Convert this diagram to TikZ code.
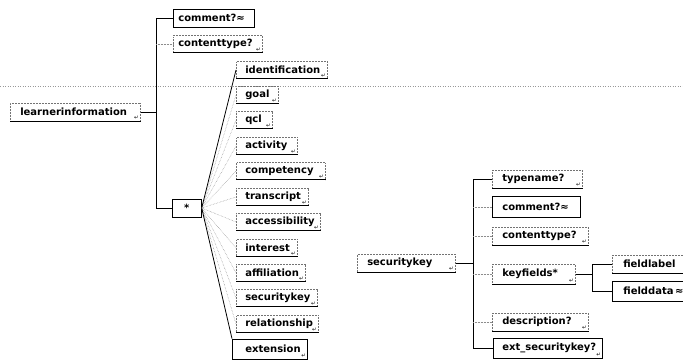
\documentclass[tikz,border=0pt]{standalone}
\usepackage{fontspec}
\setmainfont{DejaVu Sans}
\newcommand{\xmlel}[7]{\node[#1, text width=#5pt, anchor=west] (#2) at (#3,#4) {\hspace*{#6pt}#7};}
\begin{document}
\begin{tikzpicture}[x=1pt,y=-1pt,
  elem/.style={draw=black!55, densely dotted, line width=0.5pt, inner xsep=0pt, inner ysep=0pt,
    minimum height=17pt, font=\bfseries\fontsize{10}{12}\selectfont, align=left},
  selem/.style={elem, draw=black, solid, line width=0.7pt},
  uline/.style={line width=0.9pt, black},
  conn/.style={line width=0.8pt, black},
  faint/.style={line width=0.5pt, black!45, densely dotted},
  icon/.style={font=\fontsize{5.5}{6}\selectfont, inner sep=0pt, anchor=south east},
  scanline/.style={black!40, dotted, line width=0.5pt}]
\useasboundingbox (0,0) rectangle (683,361);
\clip (0,0) rectangle (683,361);
\draw[scanline] (0,86) -- (683,86);

% left tree
\xmlel{elem,minimum height=18pt}{learner}{10}{112}{130}{10}{learnerinformation}
\xmlel{selem,minimum height=18pt}{lcomment}{173}{18}{81}{5}{comment?≈}
\xmlel{elem,minimum height=17pt}{lcontent}{173}{44}{89}{5}{contenttype?}
\node[selem, minimum width=29pt, minimum height=18pt, anchor=west] (star) at (172,208) {*};
\foreach \n/\t/\y/\w in {ident/identification/70/91, goal/goal/95/42, qcl/qcl/120/36,
  activity/activity/146/61, competency/competency/171/89, transcript/transcript/197/72,
  access/accessibility/222/84, interest/interest/248/61, affil/affiliation/273/69,
  lsec/securitykey/298/81, relation/relationship/324/82}
  {\node[elem, text width=\w pt, anchor=west] (\n) at (236,\y) {\hspace*{9pt}\t};}
\xmlel{selem,minimum height=20pt}{ext}{232}{349}{75}{13}{extension}

% right tree
\xmlel{elem,minimum height=18pt}{rsec}{357}{263}{98}{10}{securitykey}
\xmlel{elem,minimum height=18pt}{typename}{492}{179}{90}{10}{typename?}
\xmlel{selem,minimum height=21pt}{rcomment}{492}{207}{88}{10}{comment?≈}
\xmlel{elem,minimum height=18pt}{rcontent}{492}{236}{96}{10}{contenttype?}
\xmlel{elem,minimum height=20pt}{keyf}{492}{274}{83}{10}{keyfields*}
\xmlel{elem,minimum height=18pt}{flabel}{612}{264}{90}{11}{fieldlabel}
\xmlel{selem,minimum height=20pt}{fdata}{612}{291}{90}{11}{fielddata\,≈}
\xmlel{elem,minimum height=18pt}{descr}{492}{322}{96}{10}{description?}
\xmlel{selem,minimum height=20pt}{extsk}{493}{348}{109}{9}{ext\_securitykey?}

% underlines
\foreach \n in {learner,lcontent,ident,goal,qcl,activity,competency,transcript,access,interest,affil,lsec,relation,rsec,typename,rcontent,keyf,flabel,descr}
  {\draw[uline] (\n.south west) -- (\n.south east);}
% icons
\foreach \n in {learner,lcontent,ident,goal,qcl,activity,competency,transcript,access,interest,affil,lsec,relation,ext,rsec,typename,rcontent,keyf,descr,extsk}
  {\node[icon] (\n-ic) at ([xshift=-1.5pt,yshift=1.5pt]\n.south east) {↵};}

% left connectors
\coordinate (lb) at (156,112);
\draw[conn] (learner.east) -- (lb);
\draw[conn] (lcomment.west) -- (lcomment.west -| lb) -- (star.west -| lb) -- (star.west);
\draw[faint] (lcontent.west -| lb) -- (lcontent.west);
\foreach \n in {goal,qcl,activity,competency,transcript,access,interest,affil,lsec,relation}
  {\draw[faint] (star.east) -- (\n.west);}
\draw[conn] (star.east) -- (ident.west);
\draw[conn] (star.east) -- (ext.north west);

% right connectors
\coordinate (rb) at (473,263);
\draw[conn] (rsec.east) -- (rb);
\draw[conn] (typename.west) -- (typename.west -| rb) -- (extsk.west -| rb) -- (extsk.west);
\foreach \n in {rcomment,rcontent,keyf,descr}
  {\draw[faint] (\n.west -| rb) -- (\n.west);}
\coordinate (kb) at (592,277);
\draw[conn] (keyf.east) -- (keyf.east -| kb);
\draw[conn] (flabel.west) -- (flabel.west -| kb) -- (fdata.west -| kb) -- (fdata.west);
\end{tikzpicture}
\end{document}
